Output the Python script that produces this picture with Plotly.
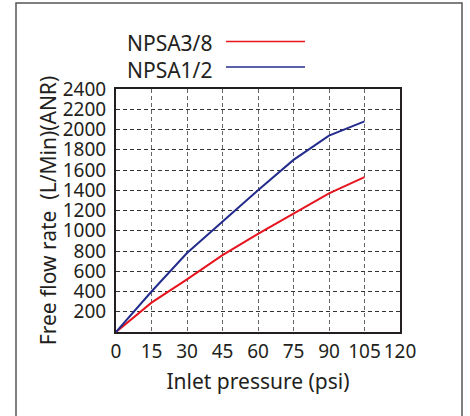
import plotly.graph_objects as go

pressure_psi = [0, 15, 30, 45, 60, 75, 90, 105]
npsa38_flow = [0, 290, 520, 760, 970, 1170, 1370, 1530]
npsa12_flow = [0, 400, 780, 1090, 1400, 1700, 1940, 2080]
series_names = ["NPSA3/8", "NPSA1/2"]
x_ticks = [0, 15, 30, 45, 60, 75, 90, 105, 120]
y_ticks = [200, 400, 600, 800, 1000, 1200, 1400, 1600, 1800, 2000, 2200, 2400]

RED = "#e6141e"
BLUE = "#232c8c"
TXT = "#231f20"
FONT = "Noto Sans"

W, H = 470, 416
L, R, T, B = 116, 70, 89, 84
pw, ph = W - L - R, H - T - B

def px(xp):
    return (xp - L) / pw

def py(yp):
    return (H - B - yp) / ph

fig = go.Figure()
fig.add_trace(go.Scatter(x=pressure_psi, y=npsa38_flow, mode="lines",
                         line=dict(color=RED, width=2), name=series_names[0],
                         showlegend=False))
fig.add_trace(go.Scatter(x=pressure_psi, y=npsa12_flow, mode="lines",
                         line=dict(color=BLUE, width=2), name=series_names[1],
                         showlegend=False))

annotations = []
shapes = []
for name, color, ty, ly in [(series_names[0], RED, 43, 41.5), (series_names[1], BLUE, 70, 67)]:
    annotations.append(dict(text=name, xref="paper", yref="paper", x=px(214), y=py(ty),
                            xanchor="right", yanchor="middle", showarrow=False,
                            font=dict(family=FONT, size=21, color=TXT)))
    shapes.append(dict(type="line", xref="paper", yref="paper", x0=px(226), x1=px(305),
                       y0=py(ly), y1=py(ly), line=dict(color=color, width=1.5)))

# outer frame
shapes.append(dict(type="rect", xref="paper", yref="paper", x0=px(16), x1=px(462),
                   y0=py(3), y1=py(440), line=dict(color="#555555", width=1.5), layer="below"))

fig.update_layout(
    width=W, height=H,
    margin=dict(l=L, r=R, t=T, b=B),
    paper_bgcolor="white", plot_bgcolor="white",
    font=dict(family=FONT, color=TXT, size=19),
    annotations=annotations, shapes=shapes,
)
fig.update_xaxes(range=[0, 120], tickvals=x_ticks, ticktext=[str(v) for v in x_ticks],
                 showline=True, linecolor=TXT, linewidth=2, mirror=True,
                 showgrid=True, gridcolor="#666666", griddash="4px,3px", gridwidth=1,
                 zeroline=False, ticks="", ticklabelstandoff=1, automargin=False,
                 tickfont=dict(family=FONT, size=19, color=TXT),
                 title=dict(text="Inlet pressure (psi)", standoff=12,
                            font=dict(family=FONT, size=21, color=TXT)))
fig.update_yaxes(range=[0, 2400], tickvals=y_ticks, ticktext=[str(v) for v in y_ticks],
                 showline=True, linecolor=TXT, linewidth=2, mirror=True,
                 showgrid=True, gridcolor="#333333", griddash="4px,3px", gridwidth=1,
                 zeroline=False, ticks="", ticklabelstandoff=4, automargin=False,
                 tickfont=dict(family=FONT, size=19, color=TXT),
                 title=dict(text="Free flow rate\u00a0\u00a0(L/Min)(ANR)", standoff=0,
                            font=dict(family=FONT, size=21, color=TXT)))

fig.write_html("out.html", config={"displayModeBar": False},
               post_script="document.body.style.margin='0';")
